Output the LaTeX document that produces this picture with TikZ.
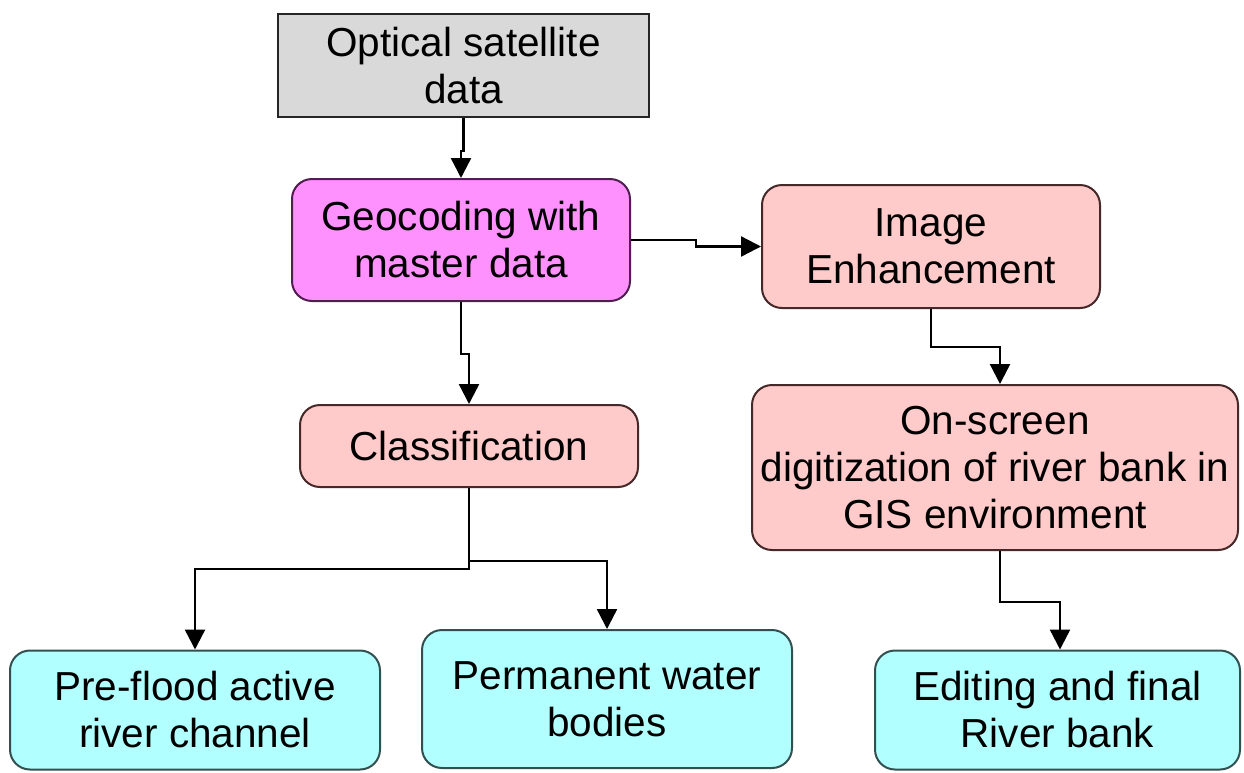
\documentclass[tikz,border=0pt]{standalone}
\usepackage{fontspec}
\setmainfont{Liberation Sans}
\usetikzlibrary{arrows.meta,calc}
\definecolor{grayfill}{RGB}{217,217,217}
\definecolor{magfill}{RGB}{255,145,255}
\definecolor{pinkfill}{RGB}{255,202,202}
\definecolor{cyanfill}{RGB}{178,255,255}
\definecolor{magline}{RGB}{80,30,80}
\definecolor{pinkline}{RGB}{70,40,40}
\definecolor{cyanline}{RGB}{50,80,80}
\tikzset{
  box/.style={draw, line width=2pt, align=center, inner sep=0pt,
    font=\fontsize{40.5}{47}\selectfont},
  graybox/.style={box, fill=grayfill, draw=black!85},
  magbox/.style={box, fill=magfill, draw=magline, rounded corners=20pt},
  pinkbox/.style={box, fill=pinkfill, draw=pinkline, rounded corners=20pt},
  cyanbox/.style={box, fill=cyanfill, draw=cyanline, rounded corners=20pt},
  arr/.style={line width=2.4pt, draw=black, -{Triangle[width=20pt,length=20pt]}}
}
\begin{document}
\begin{tikzpicture}[x=1pt,y=-1pt]
\useasboundingbox[fill=white] (0,0) rectangle (1244,772);
\node[graybox, minimum width=371, minimum height=103] (opt) at (463.5,65.5) {Optical satellite\\data};
\node[magbox, minimum width=338, minimum height=122] (geo) at (461,240) {Geocoding with\\master data};
\node[pinkbox, minimum width=338, minimum height=123] (img) at (931,246.5) {Image\\Enhancement};
\node[pinkbox, minimum width=338, minimum height=82] (cls) at (469,446) {Classification};
\node[pinkbox, minimum width=486, minimum height=165] (scr) at (995,467.5) {On-screen\\digitization of river bank in\\GIS environment};
\node[cyanbox, minimum width=370, minimum height=119] (pre) at (195,710) {Pre-flood active\\river channel};
\node[cyanbox, minimum width=370, minimum height=138] (perm) at (607,699) {Permanent water\\bodies};
\node[cyanbox, minimum width=365, minimum height=119] (edit) at (1057.5,710) {Editing and final\\River bank};

\draw[arr] (opt.south) -- ++(0,33) -| (geo.north);
\draw[arr] (geo.east) -- ++(65,0) |- (img.west);
\draw[arr] (geo.south) -- ++(0,52) -| (cls.north);
\draw[arr] (cls.south) -- ++(0,81) -| (pre.north);
\draw[arr] (cls.south) -- ++(0,73) -| (perm.north);
\draw[arr] (img.south) -- ++(0,38) -| ($(scr.north)+(5,0)$);
\draw[arr] ($(scr.south)+(5,0)$) -- ++(0,51) -| ($(edit.north)+(2.5,0)$);
\end{tikzpicture}
\end{document}
